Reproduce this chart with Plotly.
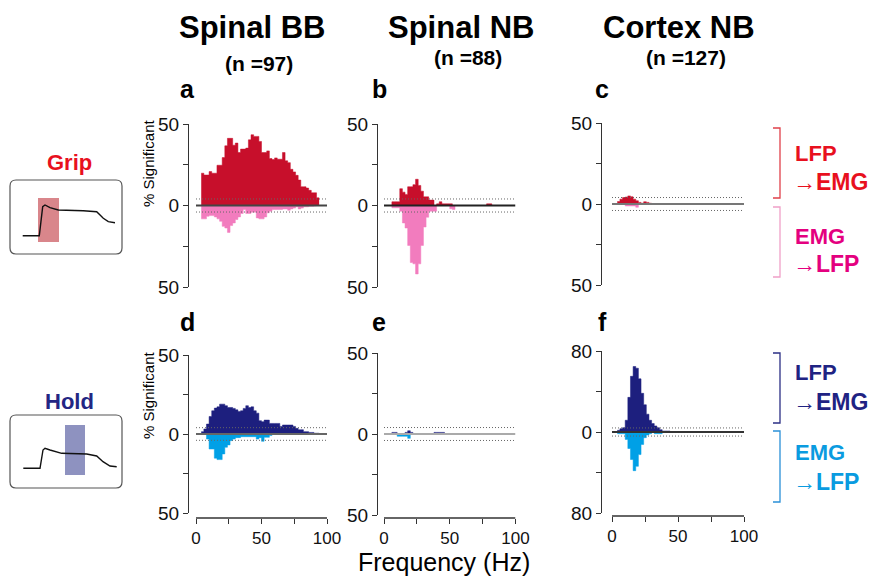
import plotly.graph_objects as go

W, H = 875, 576
FONT = "Liberation Sans, Arial, Helvetica, sans-serif"

# ---------------- data ----------------
FREQ_HZ = [5, 7, 9, 11, 13, 15, 17, 19, 21, 23, 25, 27, 29, 31, 33, 35, 37, 39, 41, 43, 45,
           47, 49, 51, 53, 55, 57, 59, 61, 63, 65, 67, 69, 71, 73, 75, 77, 79, 81, 83, 85,
           87, 89, 91, 93]
BIN_WIDTH = 2
THRESH = 4

# Grip, Spinal BB
A_LFP_EMG = [19.8, 18.7, 18.7, 20.8, 19.8, 19.8, 24.7, 24.7, 29.4, 36.6, 41.2, 41.2, 37.0, 38.3,
             32.5, 34.6, 34.6, 35.2, 40.3, 43.4, 42.4, 42.4, 39.3, 32.5, 32.5, 33.5, 28.8, 28.2,
             29.2, 28.4, 28.4, 32.5, 27.4, 26.3, 22.2, 20.6, 18.5, 15.6, 11.5, 11.5, 10.7, 9.3,
             7.8, 7.8, 4.7]
A_EMG_LFP = [8.2, 8.2, 6.6, 6.2, 6.2, 7.0, 8.2, 9.7, 12.8, 13.8, 16.5, 12.3, 10.7, 8.6, 7.0, 4.9,
             2.5, 4.9, 4.9, 4.1, 4.1, 7.6, 8.2, 8.2, 7.0, 4.5, 3.5, 2.5, 2.5, 2.5, 2.5, 2.1, 2.1,
             2.9, 2.1, 1.6, 0.8, 2.1, 1.6, 0.8, 0.8, 0.4, 0.4, 0.2, 0.0]
# Grip, Spinal NB
B_LFP_EMG = [0.0, 2.3, 2.3, 2.3, 10.3, 8.2, 6.8, 11.5, 11.5, 12.8, 16.1, 12.3, 8.8, 5.3, 5.3, 3.3,
             3.3, 0.0, 1.0, 2.3, 1.0, 1.0, 1.0, 1.0, 0, 0, 0, 0, 0, 0, 0, 0, 0, 0, 0, 0, 0, 1.0,
             1.0, 0, 0, 0, 0, 0, 0]
B_EMG_LFP = [0.0, 1.4, 1.4, 1.4, 3.5, 10.7, 13.8, 24.5, 35.0, 35.8, 42.0, 35.8, 24.5, 13.2, 7.2,
             3.5, 3.5, 3.5, 0, 0, 0, 0, 0, 2.0, 2.5, 0, 0, 0, 0, 0, 0, 0, 0, 0, 0, 0, 0, 0, 0, 0,
             0, 0, 0, 0, 0]
# Grip, Cortex NB
C_LFP_EMG = [1.5, 3.0, 4.0, 4.3, 5.0, 4.5, 3.0, 2.0, 1.0, 0.5, 1.4, 1.0, 0.5, 0, 0, 0, 0, 0, 0,
             0, 0, 0, 0, 0, 0, 0, 0, 0, 0, 0, 0, 0, 0, 0, 0, 0, 0, 0, 0, 0, 0, 0, 0, 0, 0]
C_EMG_LFP = [0, 0, 0, 1.2, 1.2, 1.2, 1.2, 2.0, 0, 0, 0, 0, 0, 0, 0, 0, 0, 0, 0, 0, 0, 0, 0, 0,
             0, 0, 0, 0, 0, 0, 0, 0, 0, 0, 0, 0, 0, 0, 0, 0, 0, 0, 0, 0, 0]
# Hold, Spinal BB
D_LFP_EMG = [1.5, 3.2, 6.3, 11.1, 14.7, 16.4, 17.2, 18.9, 18.9, 17.9, 16.8, 16.8, 16.2, 15.3,
             14.3, 14.7, 16.2, 17.9, 16.8, 17.2, 14.7, 13.2, 8.4, 7.8, 8.8, 8.8, 6.7, 6.7, 6.7,
             6.7, 4.8, 5.7, 5.7, 5.7, 5.7, 4.8, 3.6, 2.7, 2.7, 1.5, 1.5, 1.0, 1.0, 0.5, 0.5]
D_EMG_LFP = [0, 0, 3.2, 9.5, 9.5, 15.3, 16.2, 16.2, 12.6, 8.4, 6.9, 4.2, 3.2, 2.3, 2.3, 1.7, 1.7,
             1.7, 1.7, 1.7, 1.7, 3.2, 2.3, 4.6, 2.1, 2.1, 1.0, 0, 0, 0, 0, 0, 0, 0, 0, 0, 0, 0, 0,
             0, 0, 0, 0, 0, 0]
# Hold, Spinal NB
E_LFP_EMG = [0, 1.0, 1.0, 0, 0, 0, 1.0, 2.0, 1.0, 0, 0, 0, 0, 0, 0, 0, 0, 1.0, 1.0, 1.0, 1.0, 0,
             0, 0, 0, 0, 0, 0, 0, 0, 0, 0, 0, 0, 0, 0, 0, 0, 0, 0, 0, 0, 0, 0, 0]
E_EMG_LFP = [0, 0, 0, 1.4, 1.4, 1.4, 1.4, 2.7, 0, 0, 0, 0, 0, 0, 0, 0, 0, 0, 0, 0, 0, 0, 0, 0,
             0, 0, 0, 0, 0, 0, 0, 0, 0, 0, 0, 0, 0, 0, 0, 0, 0, 0, 0, 0, 0]
# Hold, Cortex NB
F_LFP_EMG = [1.7, 3.3, 4.3, 11.6, 34.2, 55.0, 64.7, 63.0, 52.5, 38.2, 26.9, 17.6, 11.6, 8.3, 6.0,
             4.3, 2.3, 1.0, 1.0, 1.0, 0, 0, 0, 0, 0, 0, 0, 0, 0, 0, 0, 0, 0, 0, 0, 0, 0, 0, 0, 0,
             0, 0, 0, 0, 0]
F_EMG_LFP = [1.7, 1.7, 1.7, 7.3, 16.3, 27.2, 38.2, 33.9, 22.3, 12.3, 5.6, 3.0, 1.7, 0, 1.7, 1.7,
             1.7, 0, 0, 0, 0, 0, 0, 0, 0, 0, 0.5, 0, 0, 0, 0, 0, 0, 0, 0, 0, 0, 0, 0, 0, 0, 0, 0,
             0, 0]

X_TICKS = [0, 25, 50, 75, 100]
X_TICKTEXT = ["0", "", "50", "", "100"]
COLUMN_TITLES = ["Spinal BB", "Spinal NB", "Cortex NB"]
COLUMN_N = ["(n =97)", "(n =88)", "(n =127)"]
PANEL_LETTERS = ["a", "b", "c", "d", "e", "f"]

# ---------------- styles ----------------
RED, PINK = "#c70f2b", "#f27cbe"
NAVY, CYAN = "#1d1f7e", "#00a0e6"

# geometry (pixels): y-axis x, 0 Hz x, 100 Hz x, top y, bottom y, y range, zero-line colour, x-axis y
PANELS = [
    dict(pos=A_LFP_EMG, neg=A_EMG_LFP, cp=RED, cn=PINK, ax=189, x0=196, x1=327, yt=124, yb=287, R=50, zc="#444", xl=None),
    dict(pos=B_LFP_EMG, neg=B_EMG_LFP, cp=RED, cn=PINK, ax=378, x0=384, x1=515.5, yt=124, yb=287, R=50, zc="#222", xl=None),
    dict(pos=C_LFP_EMG, neg=C_EMG_LFP, cp=RED, cn=PINK, ax=602, x0=612, x1=744, yt=123, yb=285, R=50, zc="#777", xl=None),
    dict(pos=D_LFP_EMG, neg=D_EMG_LFP, cp=NAVY, cn=CYAN, ax=189, x0=196, x1=327, yt=355, yb=513, R=50, zc="#666", xl=518),
    dict(pos=E_LFP_EMG, neg=E_EMG_LFP, cp=NAVY, cn=CYAN, ax=378, x0=384, x1=515.5, yt=353, yb=515, R=50, zc="#aaa", xl=518),
    dict(pos=F_LFP_EMG, neg=F_EMG_LFP, cp=NAVY, cn=CYAN, ax=602, x0=612, x1=744, yt=351, yb=513, R=80, zc="#333", xl=516),
]


def px(x):
    return x / W


def py(y):
    return 1 - y / H


fig = go.Figure()
layout = {}
shapes = []
annotations = []

edges = [c - BIN_WIDTH / 2 for c in FREQ_HZ] + [FREQ_HZ[-1] + BIN_WIDTH / 2]

for i, p in enumerate(PANELS, start=1):
    xn = "x" if i == 1 else f"x{i}"
    yn = "y" if i == 1 else f"y{i}"
    xk = "xaxis" if i == 1 else f"xaxis{i}"
    yk = "yaxis" if i == 1 else f"yaxis{i}"

    for vals, col, sign in ((p["pos"], p["cp"], 1), (p["neg"], p["cn"], -1)):
        yy = [sign * v for v in vals] + [sign * vals[-1]]
        fig.add_trace(go.Scatter(
            x=edges, y=yy, mode="lines", line=dict(shape="hv", width=0.5, color=col),
            fill="tozeroy", fillcolor=col, xaxis=xn, yaxis=yn,
            hoverinfo="skip", showlegend=False))

    pxhz = (p["x1"] - p["x0"]) / 100.0
    xmin = -(p["x0"] - p["ax"]) / pxhz
    xa = dict(domain=[px(p["ax"]), px(p["x1"])], range=[xmin, 100], showgrid=False,
              zeroline=False, showline=False, fixedrange=True, automargin=False)
    if p["xl"] is None:
        xa.update(visible=False)
    else:
        xa.update(anchor="free", position=py(p["xl"]), ticks="outside", ticklen=5,
                  tickwidth=1.2, tickcolor="#333", tickvals=X_TICKS, ticktext=X_TICKTEXT,
                  tickfont=dict(size=17, color="#111", family=FONT))
        shapes.append(dict(type="line", xref=xn, yref="paper", x0=0, x1=100,
                           y0=py(p["xl"]), y1=py(p["xl"]), line=dict(color="#333", width=1.3)))
    layout[xk] = xa

    R = p["R"]
    layout[yk] = dict(domain=[py(p["yb"]), py(p["yt"])], range=[-R, R], anchor=xn,
                      showline=True, linecolor="#333", linewidth=1.3, ticks="outside",
                      ticklen=5, tickwidth=1.2, tickcolor="#333",
                      tickvals=[-R, -R / 2, 0, R / 2, R],
                      ticktext=[str(R), "", "0", "", str(R)],
                      tickfont=dict(size=19, color="#111", family=FONT),
                      showgrid=False, zeroline=False, fixedrange=True, automargin=False)

    # zero line + significance thresholds
    shapes.append(dict(type="line", xref=xn, yref=yn, x0=0, x1=100, y0=0, y1=0,
                       layer="above", line=dict(color=p["zc"], width=1.8)))
    for t in (THRESH, -THRESH):
        shapes.append(dict(type="line", xref=xn, yref=yn, x0=0, x1=100, y0=t, y1=t,
                           layer="above", line=dict(color="#666", width=1, dash="1px,2px")))

# ---------------- titles ----------------
for title, n, xc, ny in zip(COLUMN_TITLES, COLUMN_N, [252, 461, 679], [63, 57, 57]):
    annotations.append(dict(text=f"<b>{title}</b>", x=px(xc), y=py(27), xref="paper", yref="paper",
                            showarrow=False, xanchor="center", yanchor="middle",
                            font=dict(size=31, color="#000", family=FONT)))
    annotations.append(dict(text=f"<b>{n}</b>", x=px(xc + 7), y=py(ny), xref="paper", yref="paper",
                            showarrow=False, xanchor="center", yanchor="middle",
                            font=dict(size=21, color="#000", family=FONT)))

for letter, (lx, ly) in zip(PANEL_LETTERS, [(187, 89), (379, 89), (602, 89), (187, 322), (379, 322), (602, 322)]):
    annotations.append(dict(text=f"<b>{letter}</b>", x=px(lx), y=py(ly), xref="paper", yref="paper",
                            showarrow=False, xanchor="center", yanchor="middle",
                            font=dict(size=25, color="#000", family=FONT)))

for yc in (163, 395):
    annotations.append(dict(text="% Significant", x=px(148), y=py(yc), xref="paper", yref="paper",
                            showarrow=False, textangle=-90, xanchor="center", yanchor="middle",
                            font=dict(size=15, color="#000", family=FONT)))

annotations.append(dict(text="Frequency (Hz)", x=px(444), y=py(562), xref="paper", yref="paper",
                        showarrow=False, xanchor="center", yanchor="middle",
                        font=dict(size=25, color="#000", family=FONT)))

# ---------------- left schematics ----------------
def rounded_rect(x0, y0, x1, y1, r):
    rx, ry = r / W, r / H
    X0, X1, Y0, Y1 = px(x0), px(x1), py(y0), py(y1)
    return (f"M {X0 + rx},{Y0} L {X1 - rx},{Y0} Q {X1},{Y0} {X1},{Y0 - ry} "
            f"L {X1},{Y1 + ry} Q {X1},{Y1} {X1 - rx},{Y1} L {X0 + rx},{Y1} "
            f"Q {X0},{Y1} {X0},{Y1 + ry} L {X0},{Y0 - ry} Q {X0},{Y0} {X0 + rx},{Y0} Z")


GRIP_FORCE = [(22.7, 235.7), (39.3, 235.7), (42.7, 206.7), (45, 205), (50, 207.7), (58.3, 210),
              (83.3, 210.7), (96.7, 211.7), (103.3, 218.3), (108.3, 221.7), (115, 222.7)]
HOLD_FORCE = [(23.3, 468.3), (40, 468.3), (43, 450), (45, 448.3), (50, 450), (61.7, 453.3),
              (86.7, 454), (96.7, 456), (103, 461.7), (110, 466), (116.7, 466.7)]


def polyline(pts):
    return "M " + " L ".join(f"{px(x)},{py(y)}" for x, y in pts)


schem = [
    dict(label="Grip", lc="#e8101e", ly=162, box=(10, 180, 122, 254), rect=(38, 198, 59, 242),
         rc="#d9868b", trace=GRIP_FORCE),
    dict(label="Hold", lc="#232683", ly=401, box=(10, 415, 122, 488), rect=(65, 425, 85, 475),
         rc="#8e92c0", trace=HOLD_FORCE),
]
for s in schem:
    annotations.append(dict(text=f"<b>{s['label']}</b>", x=px(69), y=py(s["ly"]), xref="paper",
                            yref="paper", showarrow=False, xanchor="center", yanchor="middle",
                            font=dict(size=22, color=s["lc"], family=FONT)))
    bx0, by0, bx1, by1 = s["box"]
    shapes.append(dict(type="path", xref="paper", yref="paper", path=rounded_rect(bx0, by0, bx1, by1, 6),
                       line=dict(color="#555", width=1.2), fillcolor="rgba(0,0,0,0)"))
    rx0, ry0, rx1, ry1 = s["rect"]
    shapes.append(dict(type="rect", xref="paper", yref="paper", x0=px(rx0), x1=px(rx1),
                       y0=py(ry1), y1=py(ry0), line=dict(width=0), fillcolor=s["rc"]))
    shapes.append(dict(type="path", xref="paper", yref="paper", path=polyline(s["trace"]),
                       line=dict(color="#111", width=1.4)))

# ---------------- right direction labels ----------------
legend = [
    dict(y0=128, y1=198, bc="#e0404a", tc="#e8101e", a="LFP", b="EMG", ya=153, yb=182),
    dict(y0=207, y1=277, bc="#f0a0c8", tc="#e4007f", a="EMG", b="LFP", ya=237, yb=264),
    dict(y0=353, y1=423, bc="#2b2f85", tc="#1f2383", a="LFP", b="EMG", ya=372, yb=402),
    dict(y0=431, y1=502, bc="#2a90d8", tc="#0a9be0", a="EMG", b="LFP", ya=452, yb=482),
]
for g in legend:
    shapes.append(dict(type="path", xref="paper", yref="paper",
                       path=polyline([(773, g["y0"]), (780, g["y0"]), (780, g["y1"]), (773, g["y1"])]),
                       line=dict(color=g["bc"], width=1.3)))
    annotations.append(dict(text=f"<b>{g['a']}</b>", x=px(793), y=py(g["ya"]), xref="paper",
                            yref="paper", showarrow=False, xanchor="left", yanchor="middle",
                            font=dict(size=22, color=g["tc"], family=FONT)))
    annotations.append(dict(text=f"→<b>{g['b']}</b>", x=px(791), y=py(g["yb"]), xref="paper",
                            yref="paper", showarrow=False, xanchor="left", yanchor="middle",
                            font=dict(size=23, color=g["tc"], family=FONT)))

fig.update_layout(
    template="none",
    width=W, height=H, autosize=False,
    margin=dict(l=0, r=0, t=0, b=0, pad=0),
    paper_bgcolor="white", plot_bgcolor="white",
    font=dict(family=FONT, color="#000"),
    shapes=shapes, annotations=annotations, showlegend=False,
    **layout,
)

fig.write_html(
    "out.html",
    config={"displayModeBar": False},
    post_script="document.body.style.margin='0';document.body.style.overflow='hidden';",
)
